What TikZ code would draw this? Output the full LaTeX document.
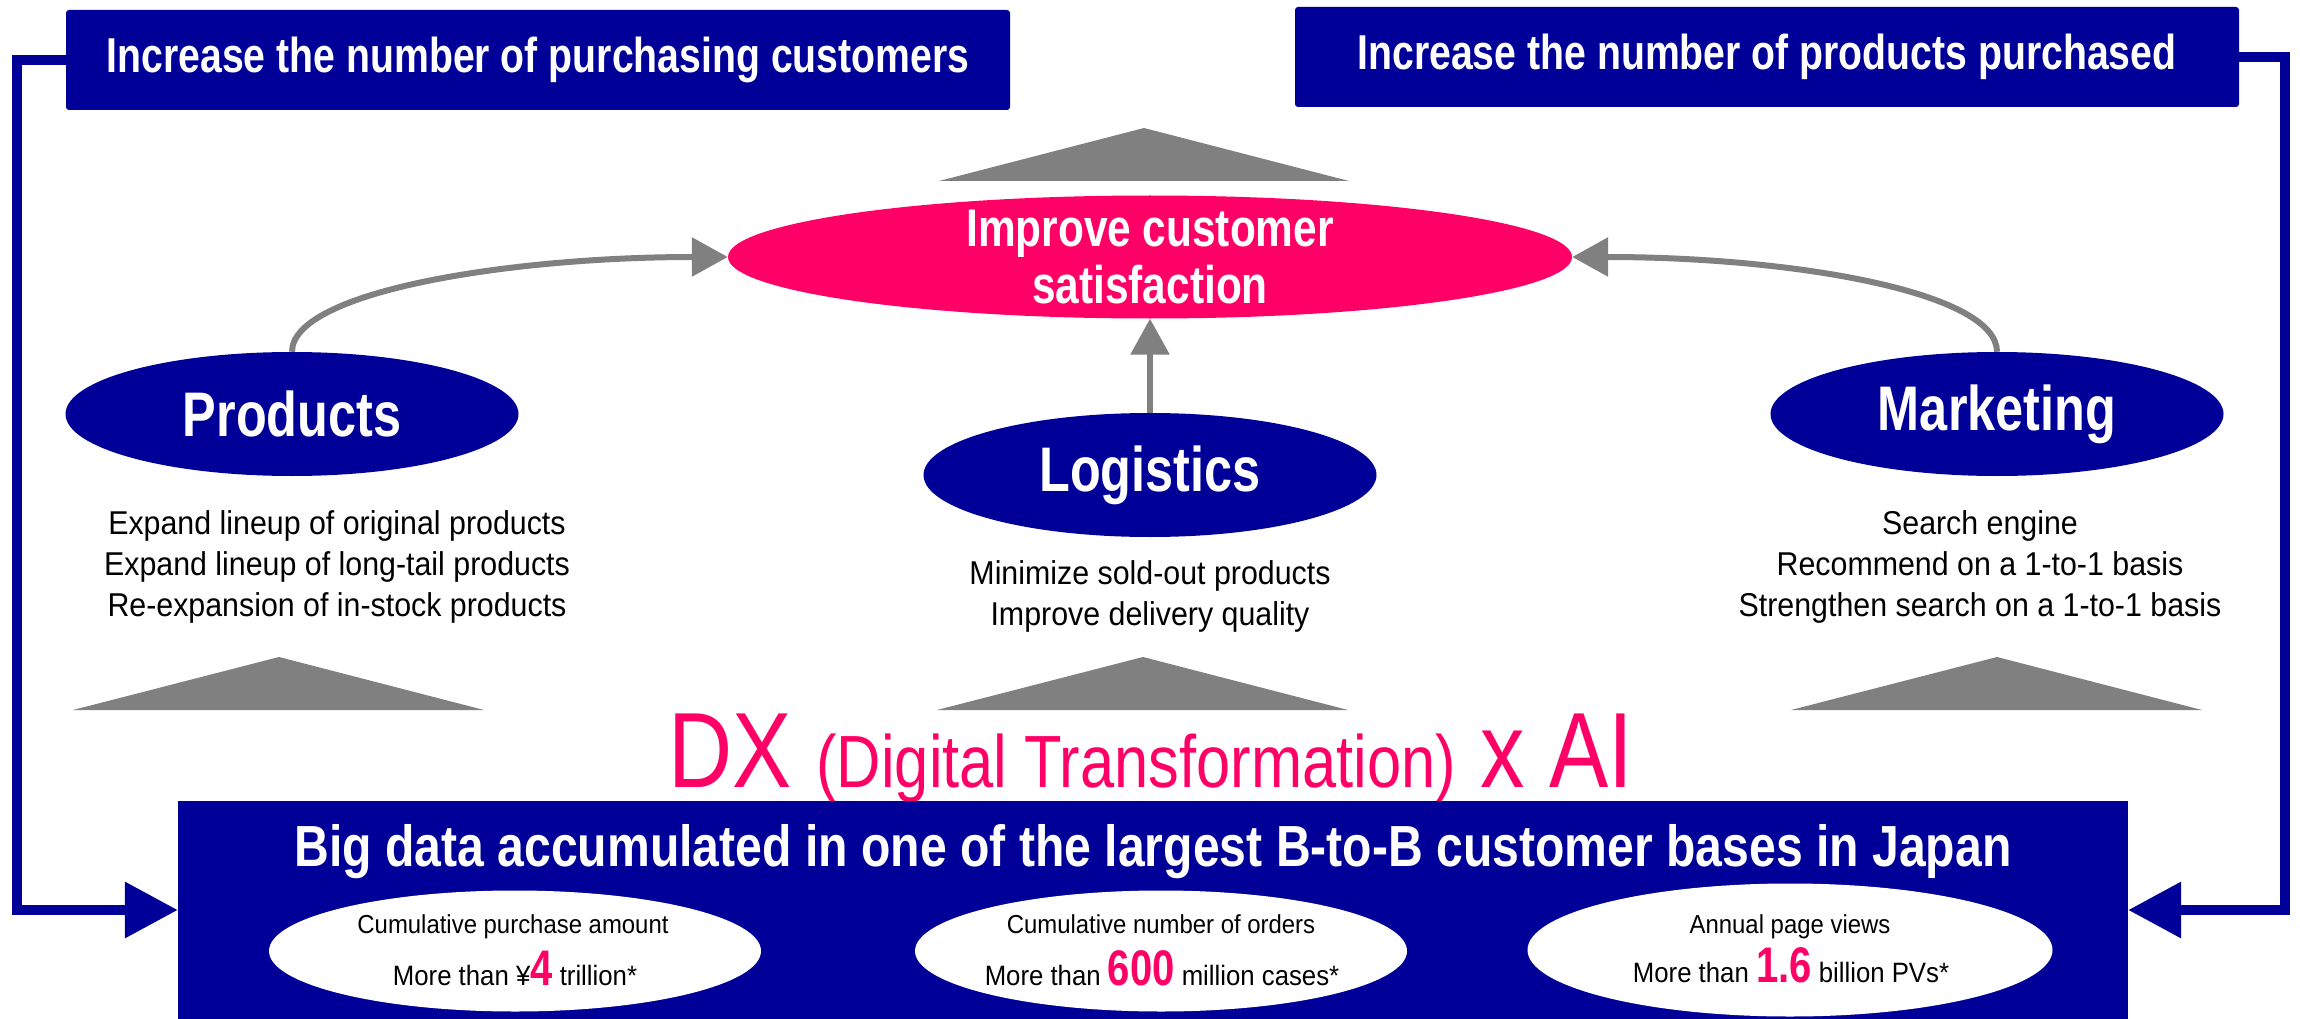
\documentclass[tikz,border=0pt]{standalone}
\usepackage{fontspec}
\setmainfont{Liberation Sans}[FakeStretch=0.92, BoldFeatures={FakeStretch=0.80}]
\newfontfamily\dxfont{Liberation Sans}[FakeStretch=0.83]
\newfontfamily\titlefont{Liberation Sans}[FakeStretch=0.83, BoldFeatures={FakeStretch=0.83}]
\usetikzlibrary{arrows.meta, positioning, shapes.geometric}
\definecolor{DeepNavy}{RGB}{0, 0, 153}
\definecolor{HotPink}{RGB}{255, 0, 102}
\definecolor{MidGray}{RGB}{128, 128, 128}
\newcommand{\fsz}[2]{\fontsize{#1}{#2}\selectfont}

\begin{document}
\begin{tikzpicture}[x=1pt, y=-1pt,
        goal/.style={rectangle, rounded corners=3pt, fill=DeepNavy, text=white, font=\bfseries\fsz{49}{55}, minimum width=944pt, minimum height=100pt, inner sep=0pt},
        pillar/.style={ellipse, fill=DeepNavy, text=white, font=\bfseries\fsz{63}{70}, minimum width=453pt, minimum height=124pt, inner sep=0pt},
        note/.style={align=center, font=\fsz{33}{41}},
        stat/.style={ellipse, fill=white, minimum width=492pt, minimum height=121pt, inner sep=0pt},
        statline/.style={anchor=base, font=\fsz{26}{30}},
        feedback/.style={draw=DeepNavy, line width=10pt, -{Triangle[length=53pt, width=54pt]}},
        flow/.style={draw=MidGray, line width=6pt, -{Triangle[length=36pt, width=38pt]}}
    ]
        \useasboundingbox (0,0) rectangle (2300,1019);

        \node[goal] (customers) at (538,60) {Increase the number of purchasing customers};
        \node[goal] (items) at (1767,57) {Increase the number of products purchased};

        \fill[MidGray] (939,181) -- (1144,128) -- (1349,181) -- cycle;
        \node[ellipse, fill=HotPink, minimum width=844pt, minimum height=123pt, inner sep=0pt] (satisfaction) at (1150,257) {};
        \node[align=center, text=white, font=\bfseries\fsz{53}{57}] (satext) at (satisfaction) {Improve customer\\satisfaction};

        \node[pillar] (products) at (292,414) {Products};
        \node[pillar] (logistics) at (1150,475) {Logistics};
        \node[pillar] (marketing) at (1997,414) {Marketing};

        \node[note] (prodnote) at (337,567) {Expand lineup of original products\\Expand lineup of long-tail products\\Re-expansion of in-stock products};
        \node[note] (logisnote) at (1150,596) {Minimize sold-out products\\Improve delivery quality};
        \node[note] (marknote) at (1980,567) {Search engine\\Recommend on a 1-to-1 basis\\Strengthen search on a 1-to-1 basis};

        \foreach \cx in {279,1143,1997}
            \fill[MidGray] (\cx-206,710) -- (\cx,657) -- (\cx+205,710) -- cycle;

        \node[anchor=base, text=HotPink, inner sep=0pt, font=\dxfont] (dxai) at (1151,787) {\fsz{107}{110}DX {\fsz{74}{80}(Digital Transformation)} x AI};

        \node[rectangle, fill=DeepNavy, minimum width=1950pt, minimum height=218pt, inner sep=0pt] (bigdata) at (1153,910) {};
        \node[anchor=base, text=white, font=\titlefont\bfseries\fsz{58}{62}, inner sep=0pt] (bigtitle) at (1153,866) {Big data accumulated in one of the largest B-to-B customer bases in Japan};

        \node[stat] (amount) at (515,951) {};
        \node[stat] (orders) at (1161,951) {};
        \node[stat, minimum width=525pt, minimum height=133pt] (views) at (1790,950) {};

        \node[statline] (amountlbl) at (513,933) {Cumulative purchase amount};
        \node[statline, font=\fsz{28}{30}] (amountval) at (515,985) {More than ¥{\color{HotPink}\bfseries\fsz{50}{50}4} trillion*};
        \node[statline] (orderslbl) at (1161,933) {Cumulative number of orders};
        \node[statline, font=\fsz{28}{30}] (ordersval) at (1162,985) {More than {\color{HotPink}\bfseries\fsz{50}{50}600} million cases*};
        \node[statline] (viewslbl) at (1790,933) {Annual page views};
        \node[statline, font=\fsz{28}{30}] (viewsval) at (1791,982) {More than {\color{HotPink}\bfseries\fsz{50}{50}1.6} billion PVs*};

        \draw[flow] (products.north) .. controls +(0,-60) and +(-220,0) .. (satisfaction.west);
        \draw[flow] (marketing.north) .. controls +(0,-60) and +(220,0) .. (satisfaction.east);
        \draw[flow] (logistics.north) -- (satisfaction.south);

        \draw[feedback] (customers.west) -- ++(-49,0) |- (bigdata.west);
        \draw[feedback] (items.east) -- ++(46,0) |- (bigdata.east);
    \end{tikzpicture}
\end{document}
